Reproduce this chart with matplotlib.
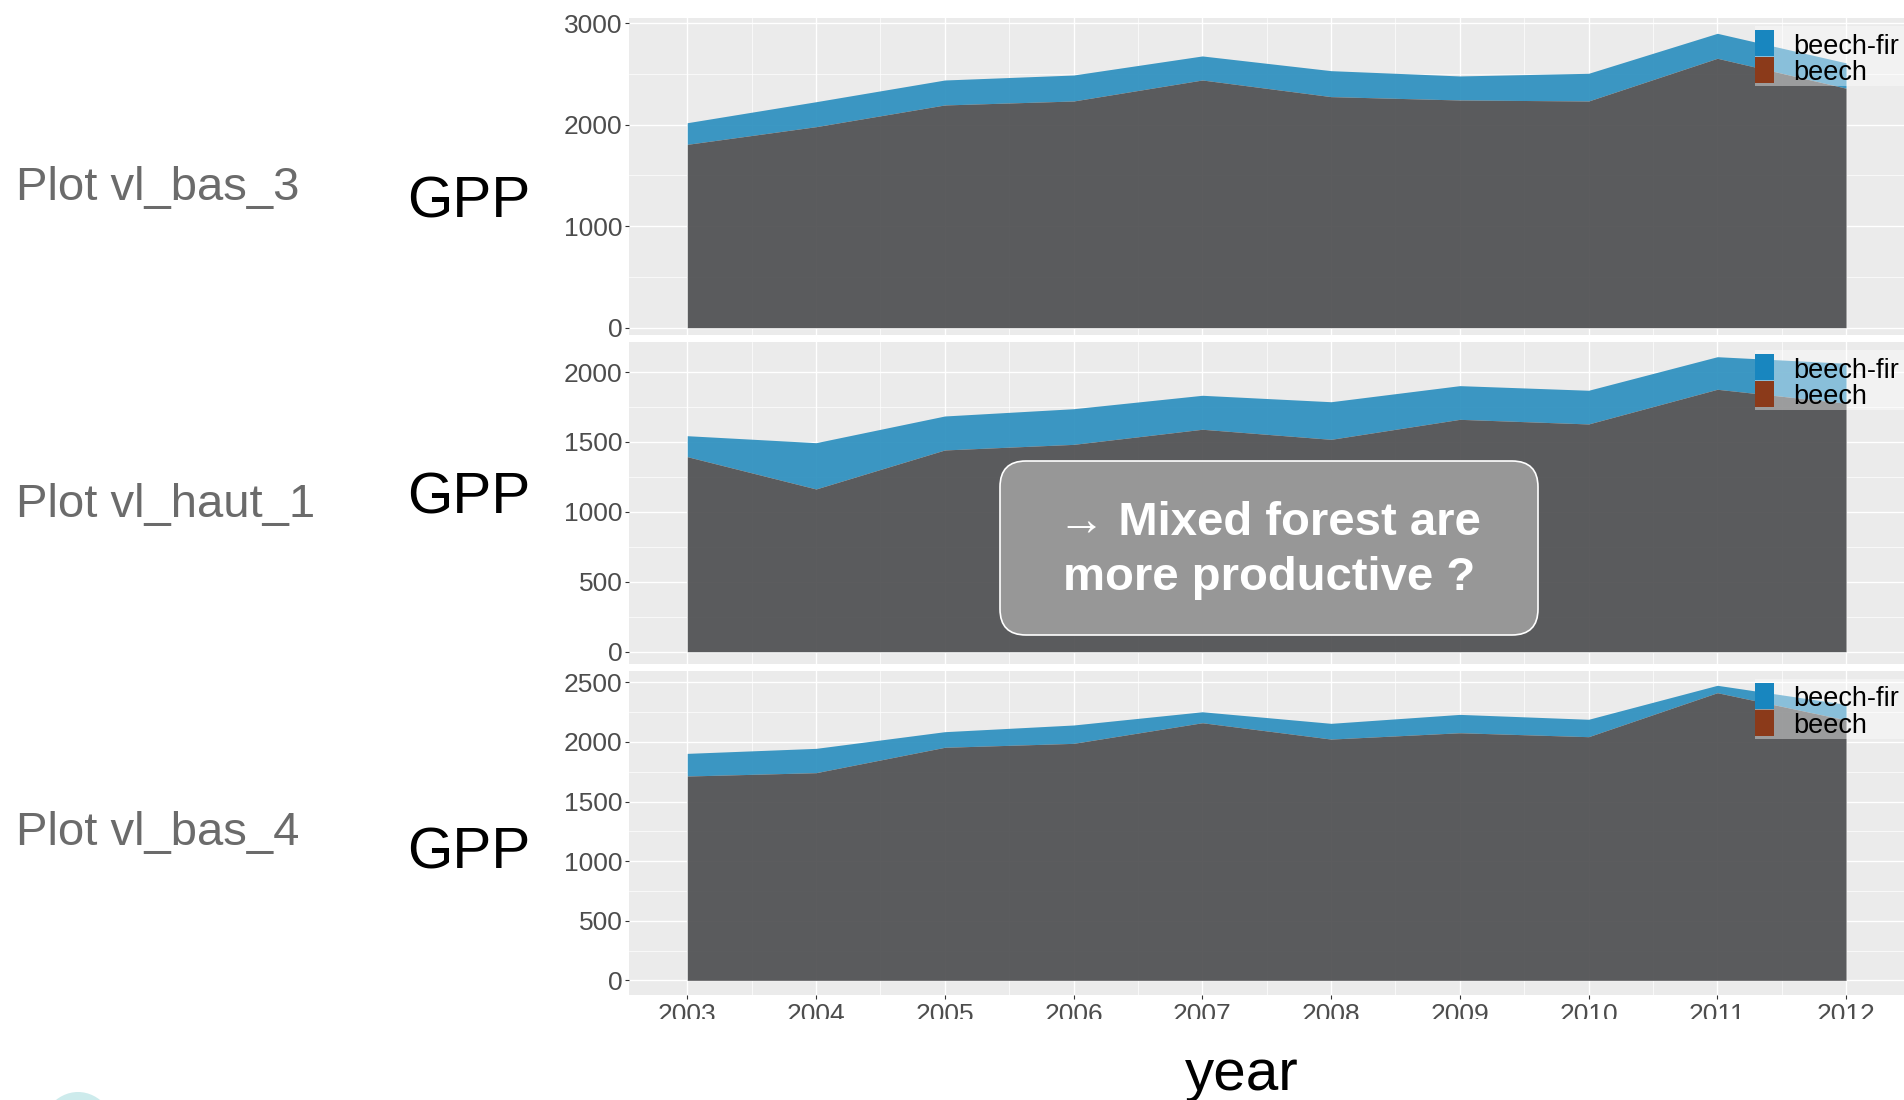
import matplotlib
matplotlib.use("Agg")
import matplotlib.pyplot as plt
from matplotlib.patches import FancyBboxPatch, Rectangle, Ellipse
from matplotlib.transforms import Affine2D

plt.rcParams["font.family"] = ["Liberation Sans", "DejaVu Sans"]

# ---- data -------------------------------------------------------------
years = [2003, 2004, 2005, 2006, 2007, 2008, 2009, 2010, 2011, 2012]
plot_names = ["Plot vl_bas_3", "Plot vl_haut_1", "Plot vl_bas_4"]
series_labels = ["beech-fir", "beech"]

bas3_beech_fir = [2020, 2227, 2441, 2490, 2678, 2533, 2481, 2507, 2901, 2610]
bas3_beech = [1807, 1981, 2195, 2234, 2441, 2277, 2244, 2234, 2655, 2360]

haut1_beech_fir = [1545, 1495, 1686, 1738, 1834, 1788, 1903, 1870, 2110, 2063]
haut1_beech = [1395, 1164, 1443, 1483, 1591, 1519, 1662, 1629, 1877, 1777]

bas4_beech_fir = [1904, 1946, 2086, 2142, 2253, 2156, 2231, 2190, 2475, 2315]
bas4_beech = [1714, 1742, 1955, 1988, 2161, 2024, 2077, 2044, 2413, 2184]

bas3_ticks = [0, 1000, 2000, 3000]
haut1_ticks = [0, 500, 1000, 1500, 2000]
bas4_ticks = [0, 500, 1000, 1500, 2000, 2500]

note_lines = ["\u2192 Mixed forest are", "more productive ?"]

# ---- styling ------------------------------------------------------------
W, H = 1904, 1100
BG = "#EBEBEB"
BLUE_AREA = "#2D90BF"
GREY_AREA = "#4F5052"
BLUE_KEY = "#1886BF"
BROWN_KEY = "#8B3A1A"
TICK_COL = "#4D4D4D"

fig = plt.figure(figsize=(W / 100, H / 100), dpi=100)
fig.patch.set_facecolor("white")

# pixel coordinates measured from the top-left corner of the canvas
px = Affine2D().scale(1 / W, -1 / H).translate(0, 1) + fig.transFigure

panel_left = 629.3
# (top px, bottom px, ymin, ymax) for each stacked panel
panels = [
    (18.3, 335.0, -72, 3049),
    (342.3, 664.3, -90, 2213),
    (671.0, 995.0, -123, 2595),
]
series = [
    (bas3_beech_fir, bas3_beech, bas3_ticks),
    (haut1_beech_fir, haut1_beech, haut1_ticks),
    (bas4_beech_fir, bas4_beech, bas4_ticks),
]
name_baselines = [200.0, 517.5, 844.5]
gpp_baselines = [217.3, 513.8, 868.4]

for i, ((top, bottom, ylo, yhi), (mixed, pure, ticks)) in enumerate(zip(panels, series)):
    ax = fig.add_axes([panel_left / W, 1 - bottom / H,
                       (W - panel_left) / W, (bottom - top) / H])
    ax.set_facecolor(BG)
    for s in ax.spines.values():
        s.set_visible(False)

    ax.fill_between(years, pure, mixed, color=BLUE_AREA, alpha=0.93, linewidth=0)
    ax.fill_between(years, 0, pure, color=GREY_AREA, alpha=0.93, linewidth=0)

    step = ticks[1] - ticks[0]
    ax.set_xticks(years)
    ax.set_xticks([y + 0.5 for y in years[:-1]], minor=True)
    ax.set_yticks(ticks)
    ax.set_yticks([t + step / 2 for t in ticks if t + step / 2 < yhi], minor=True)
    ax.set_xlim(2002.55, 2012.45)
    ax.set_ylim(ylo, yhi)

    ax.set_axisbelow(True)
    ax.grid(which="major", color="white", linewidth=1.0)
    ax.grid(which="minor", color="white", linewidth=0.5)

    ax.tick_params(axis="y", which="major", labelsize=19, labelcolor=TICK_COL,
                   color="#333333", length=3.2, width=0.8, pad=1.6)
    ax.tick_params(which="minor", length=0)
    if i < 2:
        ax.tick_params(axis="x", which="major", length=0, labelbottom=False)
    else:
        ax.tick_params(axis="x", which="major", labelsize=19, labelcolor=TICK_COL,
                       color="#333333", length=3.2, width=0.8, pad=2.5)

    # legend block in the upper right corner
    ktop = top + 12.0
    fig.patches.append(Rectangle((1755, ktop - 4), 160, 60, transform=px,
                                 facecolor="white", alpha=0.4, edgecolor="none",
                                 zorder=2))
    fig.patches.append(Rectangle((1755, ktop), 19, 25.8, transform=px,
                                 facecolor=BLUE_KEY, edgecolor="none", zorder=3))
    fig.patches.append(Rectangle((1755, ktop + 27.0), 19, 25.8, transform=px,
                                 facecolor=BROWN_KEY, edgecolor="none", zorder=3))
    fig.text(1793, ktop + 23.3, series_labels[0], transform=px, fontsize=19.5,
             color="black", va="baseline", ha="left", zorder=4)
    fig.text(1793, ktop + 50.0, series_labels[1], transform=px, fontsize=19.5,
             color="black", va="baseline", ha="left", zorder=4)

    # row labels on the left
    fig.text(16, name_baselines[i], plot_names[i], transform=px, fontsize=34,
             color="#6B6B6B", va="baseline", ha="left")
    fig.text(407, gpp_baselines[i], "GPP", transform=px, fontsize=42,
             color="black", va="baseline", ha="left")

# annotation box over the middle panel
fig.patches.append(FancyBboxPatch((1000, 461), 538, 174,
                                  boxstyle="round,pad=0,rounding_size=26",
                                  transform=px, facecolor="#979797",
                                  edgecolor="white", linewidth=1.2, zorder=5))
fig.text(1269, 535, note_lines[0], transform=px, fontsize=34, weight="bold",
         color="white", ha="center", va="baseline", zorder=6)
fig.text(1269, 590, note_lines[1], transform=px, fontsize=34, weight="bold",
         color="white", ha="center", va="baseline", zorder=6)

# bottom strip trims the year labels
fig.patches.append(Rectangle((600, 1019), 1310, 90, transform=px,
                             facecolor="white", edgecolor="none", zorder=7))
fig.text(1242, 1090, "year", transform=px, fontsize=42, color="black",
         ha="center", va="baseline", zorder=8)

# logo disc peeking in at the bottom-left corner
fig.patches.append(Ellipse((78, 1140), 80, 96, transform=px,
                           facecolor="#CDEBEC", edgecolor="none", zorder=7))

fig.savefig("out.png", dpi=100)
